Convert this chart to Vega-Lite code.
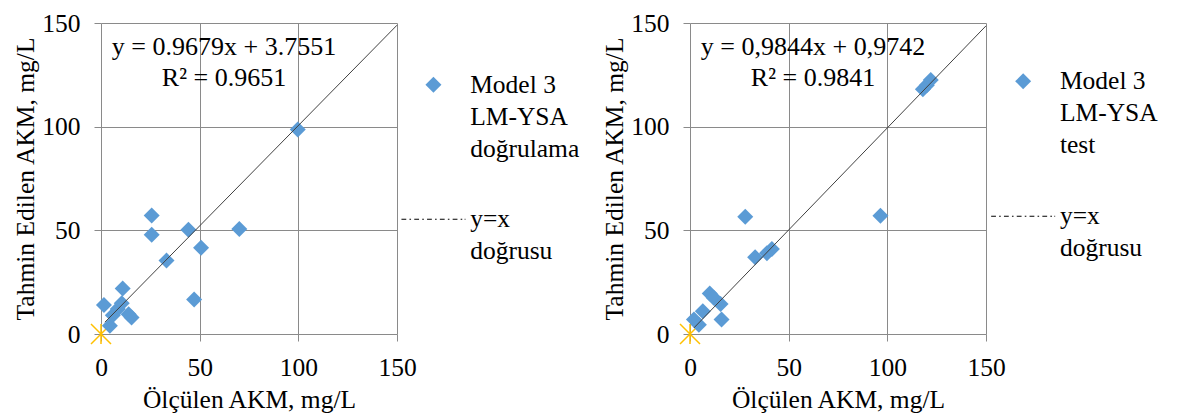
{
  "$schema": "https://vega.github.io/schema/vega-lite/v6.json",
  "background": "white",
  "padding": {"left": 13, "top": 11, "right": 5, "bottom": 5},
  "bounds": "flush",
  "spacing": 293,
  "config": {
    "font": "Liberation Serif",
    "view": {"stroke": null},
    "axis": {
      "domain": false,
      "grid": true,
      "gridColor": "#8a8a8a",
      "gridWidth": 1,
      "ticks": true,
      "tickColor": "#8a8a8a",
      "tickSize": 7,
      "labelFlush": false,
      "labelOverlap": false,
      "labelFont": "Liberation Serif",
      "labelFontSize": 25.5,
      "labelColor": "#000000",
      "labelPadding": 14,
      "titleFont": "Liberation Serif",
      "titleFontSize": 25.5,
      "titleFontWeight": "normal",
      "titleColor": "#000000"
    },
    "axisX": {"titlePadding": 7},
    "axisY": {"titlePadding": 3},
    "title": {
      "font": "Liberation Serif",
      "fontSize": 26,
      "fontWeight": "normal",
      "color": "#000000",
      "anchor": "middle",
      "frame": "group",
      "baseline": "top",
      "lineHeight": 31,
      "offset": -80,
      "dx": -25
    }
  },
  "datasets": {
    "origin": [{"olculen": 0, "tahmin": 0}],
    "valid": [
      {"olculen": 99.7, "tahmin": 98.6, "seri": "Model 3|LM-YSA|doğrulama"},
      {"olculen": 25.7, "tahmin": 57.1, "seri": "Model 3|LM-YSA|doğrulama"},
      {"olculen": 25.7, "tahmin": 47.9, "seri": "Model 3|LM-YSA|doğrulama"},
      {"olculen": 44.3, "tahmin": 50.3, "seri": "Model 3|LM-YSA|doğrulama"},
      {"olculen": 70.1, "tahmin": 50.7, "seri": "Model 3|LM-YSA|doğrulama"},
      {"olculen": 50.7, "tahmin": 41.6, "seri": "Model 3|LM-YSA|doğrulama"},
      {"olculen": 33.2, "tahmin": 35.4, "seri": "Model 3|LM-YSA|doğrulama"},
      {"olculen": 47.2, "tahmin": 16.6, "seri": "Model 3|LM-YSA|doğrulama"},
      {"olculen": 11, "tahmin": 22, "seri": "Model 3|LM-YSA|doğrulama"},
      {"olculen": 1.5, "tahmin": 14, "seri": "Model 3|LM-YSA|doğrulama"},
      {"olculen": 4.5, "tahmin": 4, "seri": "Model 3|LM-YSA|doğrulama"},
      {"olculen": 6, "tahmin": 9, "seri": "Model 3|LM-YSA|doğrulama"},
      {"olculen": 8.5, "tahmin": 12, "seri": "Model 3|LM-YSA|doğrulama"},
      {"olculen": 10.5, "tahmin": 14.8, "seri": "Model 3|LM-YSA|doğrulama"},
      {"olculen": 14, "tahmin": 9.5, "seri": "Model 3|LM-YSA|doğrulama"},
      {"olculen": 15.5, "tahmin": 8, "seri": "Model 3|LM-YSA|doğrulama"}
    ],
    "test": [
      {"olculen": 2, "tahmin": 7, "seri": "Model 3|LM-YSA|test"},
      {"olculen": 4.5, "tahmin": 4.5, "seri": "Model 3|LM-YSA|test"},
      {"olculen": 6.5, "tahmin": 11, "seri": "Model 3|LM-YSA|test"},
      {"olculen": 10, "tahmin": 19.5, "seri": "Model 3|LM-YSA|test"},
      {"olculen": 12, "tahmin": 17.5, "seri": "Model 3|LM-YSA|test"},
      {"olculen": 15.5, "tahmin": 14.5, "seri": "Model 3|LM-YSA|test"},
      {"olculen": 16, "tahmin": 7, "seri": "Model 3|LM-YSA|test"},
      {"olculen": 28, "tahmin": 56.5, "seri": "Model 3|LM-YSA|test"},
      {"olculen": 33, "tahmin": 37, "seri": "Model 3|LM-YSA|test"},
      {"olculen": 39, "tahmin": 39, "seri": "Model 3|LM-YSA|test"},
      {"olculen": 41.5, "tahmin": 41, "seri": "Model 3|LM-YSA|test"},
      {"olculen": 96.5, "tahmin": 57, "seri": "Model 3|LM-YSA|test"},
      {"olculen": 118, "tahmin": 118, "seri": "Model 3|LM-YSA|test"},
      {"olculen": 120, "tahmin": 120, "seri": "Model 3|LM-YSA|test"},
      {"olculen": 122, "tahmin": 122.5, "seri": "Model 3|LM-YSA|test"}
    ],
    "trendValid": [
      {"olculen": 2, "tahmin": 5.69},
      {"olculen": 150, "tahmin": 148.94}
    ],
    "trendTest": [
      {"olculen": 2, "tahmin": 2.94},
      {"olculen": 150, "tahmin": 148.63}
    ]
  },
  "hconcat": [
    {
      "width": 296,
      "height": 311,
      "title": {"text": ["y = 0.9679x + 3.7551", "R² = 0.9651"]},
      "encoding": {
        "x": {"field": "olculen", "type": "quantitative", "title": "Ölçülen AKM, mg/L",
              "scale": {"domain": [0, 150], "nice": false},
              "axis": {"values": [0, 50, 100, 150]}},
        "y": {"field": "tahmin", "type": "quantitative", "title": "Tahmin Edilen AKM, mg/L",
              "scale": {"domain": [0, 150], "nice": false},
              "axis": {"values": [0, 50, 100, 150]}}
      },
      "layer": [
        {
          "data": {"name": "origin"},
          "mark": {"type": "point", "shape": "M-1,-1L1,1M-1,1L1,-1M0,-1L0,1", "filled": false, "stroke": "#FFC000", "strokeWidth": 1.5, "size": 400, "opacity": 1}
        },
        {
          "data": {"name": "valid"},
          "mark": {"type": "point", "filled": true, "opacity": 1, "size": 256, "strokeWidth": 0},
          "encoding": {
            "shape": {"field": "seri", "type": "nominal",
              "scale": {"domain": ["Model 3|LM-YSA|doğrulama", "y=x|doğrusu"],
                        "range": ["diamond", "M-4,-0.07H-3.4V0.07H-4Z M-3,-0.07H-2.8V0.07H-3Z M-2.4,-0.07H-1.8V0.07H-2.4Z M-1.4,-0.07H-1.2V0.07H-1.4Z M-0.8,-0.07H-0.2V0.07H-0.8Z M0.2,-0.07H0.4V0.07H0.2Z M0.8,-0.07H1.4V0.07H0.8Z M1.8,-0.07H2V0.07H1.8Z M2.4,-0.07H3V0.07H2.4Z M3.4,-0.07H3.6V0.07H3.4Z M3.9,-0.07H4V0.07H3.9Z"]},
              "legend": {"orient": "none", "legendX": 319.7, "legendY": 49, "title": null, "padding": 0,
                "labelExpr": "split(datum.label, '|')", "labelFont": "Liberation Serif", "labelFontSize": 25.5,
                "labelColor": "#000000", "labelBaseline": "top", "labelLimit": 0, "labelOffset": 24,
                "rowPadding": 43.5, "symbolSize": 256, "symbolStrokeWidth": 0, "symbolOpacity": 1,
                "encode": {"labels": {"update": {"dy": {"value": -12}, "lineHeight": {"value": 32}}}}}},
            "color": {"field": "seri", "type": "nominal",
              "scale": {"domain": ["Model 3|LM-YSA|doğrulama", "y=x|doğrusu"], "range": ["#5B9BD5", "#000000"]},
              "legend": {"orient": "none", "legendX": 319.7, "legendY": 49, "title": null, "padding": 0,
                "labelExpr": "split(datum.label, '|')", "labelFont": "Liberation Serif", "labelFontSize": 25.5,
                "labelColor": "#000000", "labelBaseline": "top", "labelLimit": 0, "labelOffset": 24,
                "rowPadding": 43.5, "symbolSize": 256, "symbolStrokeWidth": 0, "symbolOpacity": 1,
                "encode": {"labels": {"update": {"dy": {"value": -12}, "lineHeight": {"value": 32}}}}}}
          }
        },
        {
          "data": {"name": "trendValid"},
          "mark": {"type": "line", "color": "#404040", "strokeWidth": 1}
        }
      ]
    },
    {
      "width": 296,
      "height": 311,
      "title": {"text": ["y = 0,9844x + 0,9742", "R² = 0.9841"]},
      "encoding": {
        "x": {"field": "olculen", "type": "quantitative", "title": "Ölçülen AKM, mg/L",
              "scale": {"domain": [0, 150], "nice": false},
              "axis": {"values": [0, 50, 100, 150]}},
        "y": {"field": "tahmin", "type": "quantitative", "title": "Tahmin Edilen AKM, mg/L",
              "scale": {"domain": [0, 150], "nice": false},
              "axis": {"values": [0, 50, 100, 150]}}
      },
      "layer": [
        {
          "data": {"name": "origin"},
          "mark": {"type": "point", "shape": "M-1,-1L1,1M-1,1L1,-1M0,-1L0,1", "filled": false, "stroke": "#FFC000", "strokeWidth": 1.5, "size": 400, "opacity": 1}
        },
        {
          "data": {"name": "test"},
          "mark": {"type": "point", "filled": true, "opacity": 1, "size": 256, "strokeWidth": 0},
          "encoding": {
            "shape": {"field": "seri", "type": "nominal",
              "scale": {"domain": ["Model 3|LM-YSA|test", "y=x|doğrusu"],
                        "range": ["diamond", "M-4,-0.07H-3.4V0.07H-4Z M-3,-0.07H-2.8V0.07H-3Z M-2.4,-0.07H-1.8V0.07H-2.4Z M-1.4,-0.07H-1.2V0.07H-1.4Z M-0.8,-0.07H-0.2V0.07H-0.8Z M0.2,-0.07H0.4V0.07H0.2Z M0.8,-0.07H1.4V0.07H0.8Z M1.8,-0.07H2V0.07H1.8Z M2.4,-0.07H3V0.07H2.4Z M3.4,-0.07H3.6V0.07H3.4Z M3.9,-0.07H4V0.07H3.9Z"]},
              "legend": {"orient": "none", "legendX": 320.4, "legendY": 45.5, "title": null, "padding": 0,
                "labelExpr": "split(datum.label, '|')", "labelFont": "Liberation Serif", "labelFontSize": 25.5,
                "labelColor": "#000000", "labelBaseline": "top", "labelLimit": 0, "labelOffset": 24,
                "rowPadding": 44, "symbolSize": 256, "symbolStrokeWidth": 0, "symbolOpacity": 1,
                "encode": {"labels": {"update": {"dy": {"value": -12}, "lineHeight": {"value": 32}}}}}},
            "color": {"field": "seri", "type": "nominal",
              "scale": {"domain": ["Model 3|LM-YSA|test", "y=x|doğrusu"], "range": ["#5B9BD5", "#000000"]},
              "legend": {"orient": "none", "legendX": 320.4, "legendY": 45.5, "title": null, "padding": 0,
                "labelExpr": "split(datum.label, '|')", "labelFont": "Liberation Serif", "labelFontSize": 25.5,
                "labelColor": "#000000", "labelBaseline": "top", "labelLimit": 0, "labelOffset": 24,
                "rowPadding": 44, "symbolSize": 256, "symbolStrokeWidth": 0, "symbolOpacity": 1,
                "encode": {"labels": {"update": {"dy": {"value": -12}, "lineHeight": {"value": 32}}}}}}
          }
        },
        {
          "data": {"name": "trendTest"},
          "mark": {"type": "line", "color": "#404040", "strokeWidth": 1}
        }
      ]
    }
  ],
  "resolve": {
    "scale": {"color": "independent", "shape": "independent"},
    "legend": {"color": "independent", "shape": "independent"}
  }
}
